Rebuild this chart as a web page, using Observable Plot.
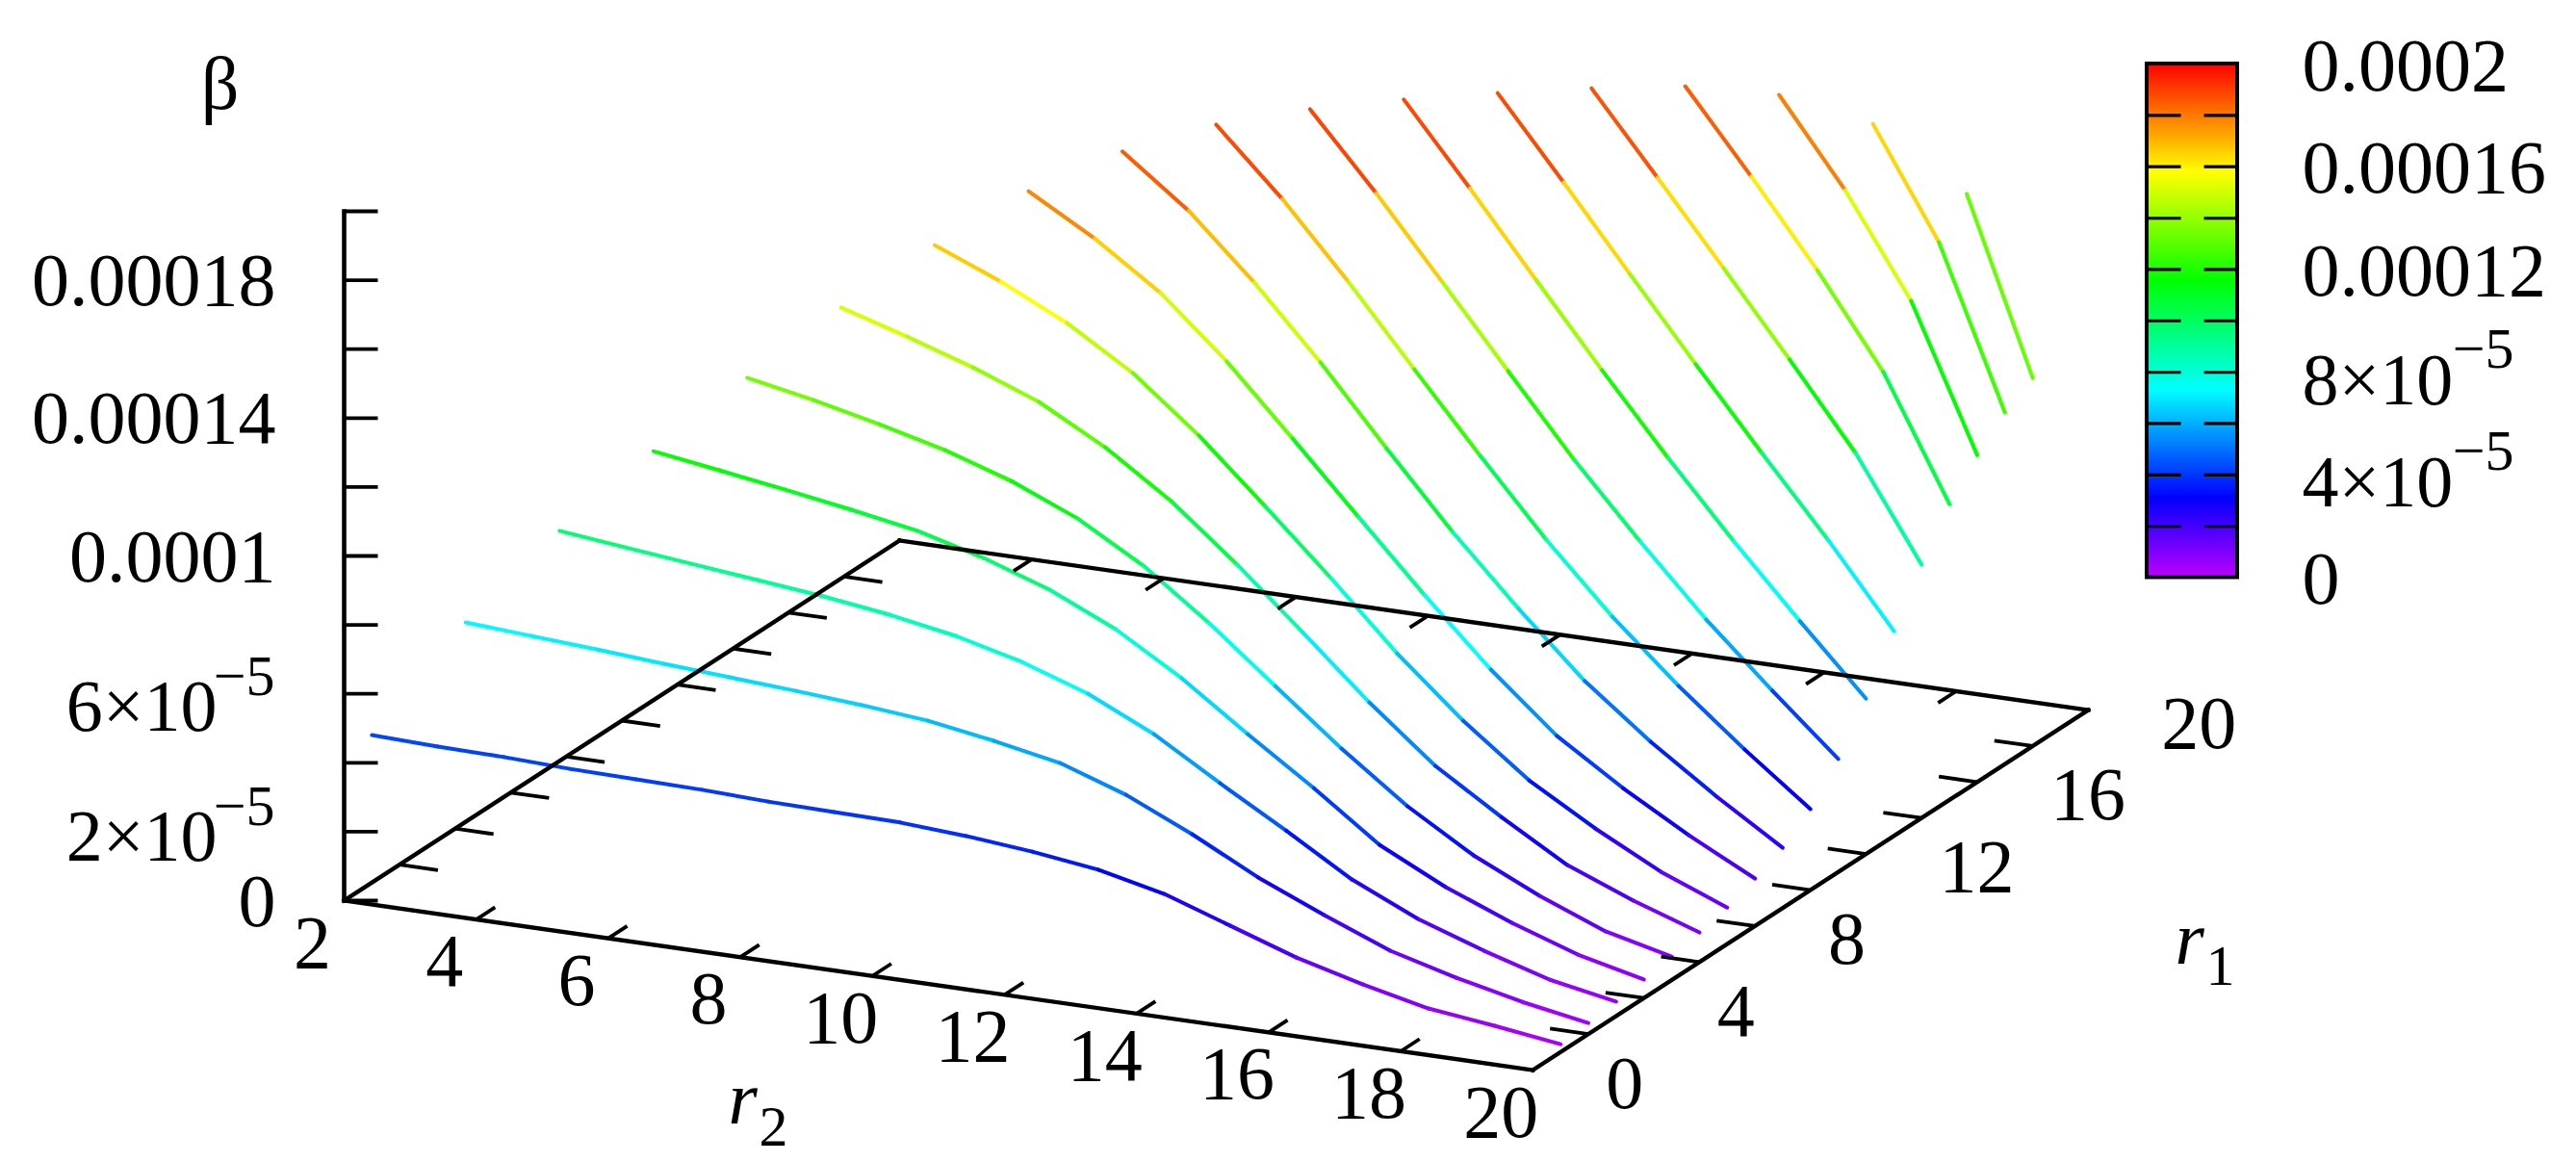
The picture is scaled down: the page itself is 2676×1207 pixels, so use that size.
<!DOCTYPE html>
<html><head><meta charset="utf-8">
<style>html,body{margin:0;background:#fff}svg{display:block}</style>
<script src="https://cdn.jsdelivr.net/npm/d3@7"></script>
<script src="https://cdn.jsdelivr.net/npm/@observablehq/plot@0.6"></script>
</head><body>
<script>
// beta values in units of 1e-5; each array runs r2 = r1+1 ... 20
const betaR1_01 = [4.28,4.22,4.19,4.12,4.09,4.06,3.99,3.96,3.93,3.81,3.63,3.38,2.95,2.30,1.65,1.15,.72,.49,.23];
const betaR1_02 = [7.30,7.18,7.06,6.92,6.80,6.68,6.54,6.36,6.05,5.68,5.03,4.16,3.18,2.36,1.60,1.09,.66,.32];
const betaR1_03 = [9.71,9.50,9.30,9.10,8.90,8.64,8.30,7.82,7.17,6.27,5.12,4.02,2.87,2.00,1.35,.78,.42];
const betaR1_04 = [11.77,11.49,11.20,10.89,10.55,10.04,9.39,8.52,7.37,6.02,4.73,3.35,2.40,1.64,.99,.54];
const betaR1_05 = [13.65,13.28,12.85,12.37,11.75,10.94,9.84,8.44,6.89,5.35,3.95,2.80,1.90,1.14,.68];
const betaR1_06 = [15.44,14.87,14.25,13.52,12.48,11.19,9.62,7.91,6.17,4.60,3.39,2.27,1.51,.86];
const betaR1_07 = [17.00,16.22,15.29,14.11,12.57,10.80,8.98,7.07,5.39,3.93,2.81,1.82,1.06];
const betaR1_08 = [18.32,17.22,15.91,14.20,12.23,10.22,8.23,6.35,4.70,3.46,2.36,1.38];
const betaR1_09 = [19.22,17.78,15.96,13.92,11.70,9.55,7.59,5.77,4.28,2.96,1.75];
const betaR1_10 = [19.75,17.87,15.74,13.47,11.23,9.07,7.11,5.38,3.81,2.35];
const betaR1_11 = [19.95,17.79,15.49,13.17,10.87,8.77,6.78,4.99,3.28];
const betaR1_12 = [19.98,17.68,15.30,12.95,10.68,8.52,6.48,4.51];
const betaR1_13 = [19.92,17.60,15.22,12.87,10.57,8.33,5.95];
const betaR1_14 = [19.81,17.49,15.14,12.76,10.32,7.35];
const betaR1_15 = [19.62,17.27,14.83,12.15,8.59];
const betaR1_16 = [19.12,16.63,13.69,9.49];
const betaR1_17 = [18.03,14.87,10.20];
const betaR1_18 = [15.75,10.68];
const betaRows = [betaR1_01,betaR1_02,betaR1_03,betaR1_04,betaR1_05,betaR1_06,betaR1_07,betaR1_08,betaR1_09,
  betaR1_10,betaR1_11,betaR1_12,betaR1_13,betaR1_14,betaR1_15,betaR1_16,betaR1_17,betaR1_18];

const r2Ticks = [4,6,8,10,12,14,16,18];
const r2Labels = ["2","4","6","8","10","12","14","16","18","20"];
const r1Ticks = [2,4,6,8,10,12,14,16,18];
const r1Labels = ["0","4","8","12","16","20"];
const betaTicks = [0,2,4,6,8,10,12,14,16,18,20];
const betaPlain = [{v:0,t:"0"},{v:10,t:"0.0001"},{v:14,t:"0.00014"},{v:18,t:"0.00018"}];
const betaPower = [{v:2,t:"2×10",e:"−5"},{v:6,t:"6×10",e:"−5"}];
const barPlain = [{v:20,t:"0.0002"},{v:16,t:"0.00016"},{v:12,t:"0.00012"},{v:0,t:"0"}];
const barPower = [{v:8,t:"8×10",e:"−5"},{v:4,t:"4×10",e:"−5"}];
const hueStops = [0,3.10,7.32,11.55,15.77,20];
const hueColors = ["#bb00ff","#0000ff","#00ffff","#00ff00","#ffff00","#ff0000"];

// oblique floor + vertical beta axis
const ox = 357, oy = 935, perR2x = 68.6, perR2y = 9.78, perR1x = 28.85, perR1y = -18.7, perBeta = 35.8;
const px = (r2, r1) => ox + perR2x * (r2 - 2) + perR1x * r1;
const py = (r2, r1, b = 0) => oy + perR2y * (r2 - 2) + perR1y * r1 - perBeta * b;

const segments = betaRows.flatMap((row, i) => {
  const r1 = i + 1;
  return row.slice(1).map((b, j) => ({r1, a: r1 + 1 + j, c: r1 + 2 + j, b0: row[j], b1: b, mean: (row[j] + b) / 2}));
});

const barTop = 66, barBot = 599.5, barL = 2230, barR = 2324;
const barY = v => barBot - (barBot - barTop) * v / 20;
const cells = d3.range(0, 267).map(i => ({lo: i * 20 / 267, hi: (i + 1) * 20 / 267, mid: (i + .5) * 20 / 267}));
const barTickVals = [2,4,6,8,10,12,14,16,18];

const serif = "Liberation Serif";
const F = 78, FM = 76, FE = 60;
const txt = {fontFamily: serif, fill: "black", lineAnchor: "bottom"};
const line = (rows, o) => Plot.link(rows, {stroke: "black", strokeWidth: 4, ...o});
const zNudge = v => v === 2 ? 30 : v === 6 ? 38 : 26;
const barNudge = v => (v === 8 || v === 4) ? 33 : 27;
const zY = v => py(2, 0, v);

const floorEdges = [{a:2,b:0,c:20,d:0},{a:20,b:0,c:20,d:20},{a:20,b:20,c:2,d:20},{a:2,b:20,c:2,d:0}];

const chart = Plot.plot({
  width: 2676, height: 1207,
  marginTop: 0, marginRight: 0, marginBottom: 0, marginLeft: 0,
  style: {background: "white", overflow: "visible"},
  x: {domain: [0, 2676], range: [0, 2676], axis: null},
  y: {domain: [0, 1207], range: [0, 1207], axis: null},
  color: {type: "linear", domain: hueStops, range: hueColors, interpolate: "rgb", legend: false},
  marks: [
    // surface lines
    Plot.link(segments, {
      x1: d => px(d.a, d.r1), y1: d => py(d.a, d.r1, d.b0),
      x2: d => px(d.c, d.r1), y2: d => py(d.c, d.r1, d.b1),
      stroke: d => d.mean, strokeWidth: 4, strokeLinecap: "round"
    }),
    // floor frame
    line(floorEdges, {x1: d => px(d.a, d.b), y1: d => py(d.a, d.b), x2: d => px(d.c, d.d), y2: d => py(d.c, d.d), strokeWidth: 4.4, strokeLinecap: "square"}),
    // r2 ticks
    line(r2Ticks, {x1: d => px(d, 0), y1: d => py(d, 0), x2: d => px(d, .68), y2: d => py(d, .68), strokeWidth: 3.8}),
    line(r2Ticks, {x1: d => px(d, 20), y1: d => py(d, 20), x2: d => px(d, 19.35), y2: d => py(d, 19.35), strokeWidth: 3.8}),
    // r1 ticks
    line(r1Ticks, {x1: d => px(2, d), y1: d => py(2, d), x2: d => px(2.58, d), y2: d => py(2.58, d), strokeWidth: 3.8}),
    line(r1Ticks, {x1: d => px(20, d), y1: d => py(20, d), x2: d => px(19.42, d), y2: d => py(19.42, d), strokeWidth: 3.8}),
    // beta axis
    line([{}], {x1: () => ox, y1: () => zY(0), x2: () => ox, y2: () => zY(20), strokeWidth: 4.6, strokeLinecap: "square"}),
    line(betaTicks, {x1: () => ox, y1: d => zY(d), x2: () => ox + 35, y2: d => zY(d), strokeWidth: 3.8}),
    // beta labels
    Plot.text(betaPlain, {...txt, x: () => 286, y: d => zY(d.v) + zNudge(d.v), text: "t", textAnchor: "end", fontSize: F}),
    Plot.text(betaPower, {...txt, x: () => 225, y: d => zY(d.v) + zNudge(d.v), text: "t", textAnchor: "end", fontSize: FM}),
    Plot.text(betaPower, {...txt, x: () => 285, y: d => zY(d.v) + zNudge(d.v) - 37, text: "e", textAnchor: "end", fontSize: FE}),
    Plot.text(["β"], {...txt, x: () => 228, y: () => 112, text: d => d, textAnchor: "middle", fontSize: F}),
    // floor labels
    Plot.text(r2Labels, {...txt, x: d => px(+d, 0) - 33, y: d => py(+d, 0) + 69, text: d => d, textAnchor: "middle", fontSize: F}),
    Plot.text(r1Labels, {...txt, x: d => px(20, +d) + 76, y: d => py(20, +d) + 39, text: d => d, textAnchor: "start", fontSize: F}),
    Plot.text(["r"], {...txt, x: () => 756, y: () => 1166, text: d => d, fontStyle: "italic", textAnchor: "start", fontSize: F}),
    Plot.text(["2"], {...txt, x: () => 788, y: () => 1189, text: d => d, textAnchor: "start", fontSize: FE}),
    Plot.text(["r"], {...txt, x: () => 2259, y: () => 1000, text: d => d, fontStyle: "italic", textAnchor: "start", fontSize: F}),
    Plot.text(["1"], {...txt, x: () => 2291, y: () => 1022, text: d => d, textAnchor: "start", fontSize: FE}),
    // colour bar
    Plot.rect(cells, {x1: () => barL, x2: () => barR, y1: d => barY(d.lo), y2: d => barY(d.hi), fill: d => d.mid, shapeRendering: "crispEdges"}),
    Plot.rect([{}], {x1: () => barL, x2: () => barR, y1: () => barTop, y2: () => barBot, fill: "none", stroke: "black", strokeWidth: 4}),
    line(barTickVals, {x1: () => barL, y1: d => barY(d), x2: () => barL + 35, y2: d => barY(d), strokeWidth: 3.2}),
    line(barTickVals, {x1: () => barR, y1: d => barY(d), x2: () => barR - 35, y2: d => barY(d), strokeWidth: 3.2}),
    Plot.text(barPlain, {...txt, x: () => 2391, y: d => barY(d.v) + barNudge(d.v), text: "t", textAnchor: "start", fontSize: F}),
    Plot.text(barPower, {...txt, x: () => 2391, y: d => barY(d.v) + barNudge(d.v), text: "t", textAnchor: "start", fontSize: FM}),
    Plot.text(barPower, {...txt, x: () => 2611, y: d => barY(d.v) + barNudge(d.v) - 38, text: "e", textAnchor: "end", fontSize: FE})
  ]
});
document.body.appendChild(chart);
</script>
</body></html>
